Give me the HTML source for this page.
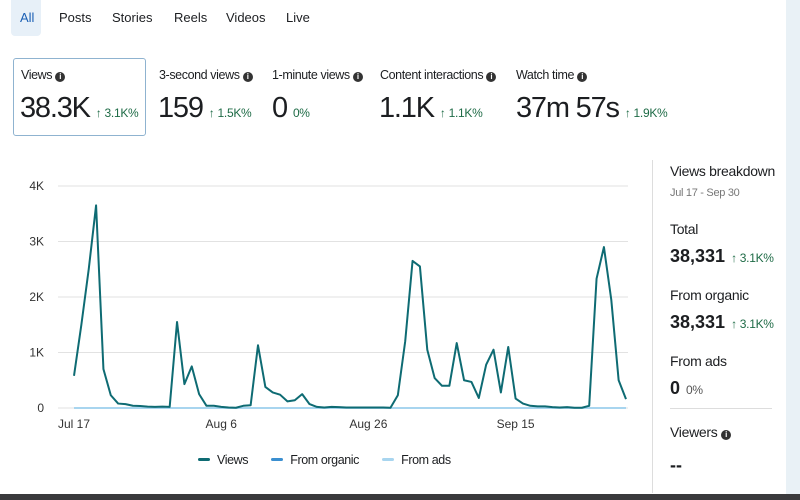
<!DOCTYPE html>
<html><head><meta charset="utf-8">
<style>
body{margin:0;width:800px;height:500px;overflow:hidden;background:#fff;font-family:"Liberation Sans",sans-serif;color:#1c1e21;position:relative}
.abs{position:absolute}
.tab{position:absolute;top:10px;font-size:13px;color:#1c1e21}
.card-l{position:absolute;top:68px;font-size:12.5px;letter-spacing:-0.4px}
.card-v{position:absolute;top:92px;font-size:29px;font-weight:300;letter-spacing:-1.2px}
.pct{font-size:12px;color:#1e6b46;letter-spacing:-0.3px;margin-left:6px;font-weight:400}
.i{display:inline-block;width:10px;height:10px;border-radius:50%;background:#333;color:#fff;font-size:8px;text-align:center;line-height:10px;font-weight:bold;vertical-align:0}
.side{position:absolute;left:670px;font-size:14px;letter-spacing:-0.3px}
.big{position:absolute;left:670px;font-size:18px;font-weight:bold}
</style></head><body>
<div class="abs" style="left:11px;top:0;width:30px;height:36px;background:#e7f0f8;border-radius:0 0 4px 4px"></div>
<div class="tab" style="left:20px;color:#1a5fb4">All</div>
<div class="tab" style="left:59px">Posts</div>
<div class="tab" style="left:112px">Stories</div>
<div class="tab" style="left:174px">Reels</div>
<div class="tab" style="left:226px">Videos</div>
<div class="tab" style="left:286px">Live</div>

<div class="abs" style="left:13px;top:58px;width:131px;height:76px;border:1px solid #8fb3d0;border-radius:3px"></div>
<div class="card-l" style="left:21px">Views <span class="i">i</span></div>
<div class="card-v" style="left:20px">38.3K<span class="pct">↑ 3.1K%</span></div>
<div class="card-l" style="left:159px">3-second views <span class="i">i</span></div>
<div class="card-v" style="left:158px">159<span class="pct">↑ 1.5K%</span></div>
<div class="card-l" style="left:272px">1-minute views <span class="i">i</span></div>
<div class="card-v" style="left:272px">0<span class="pct">0%</span></div>
<div class="card-l" style="left:380px">Content interactions <span class="i">i</span></div>
<div class="card-v" style="left:379px">1.1K<span class="pct">↑ 1.1K%</span></div>
<div class="card-l" style="left:516px">Watch time <span class="i">i</span></div>
<div class="card-v" style="left:516px">37m 57s<span class="pct">↑ 1.9K%</span></div>

<svg class="abs" style="left:0;top:0" width="650" height="480" id="chart"></svg>

<div class="abs" style="left:198px;top:453px;font-size:12.5px;letter-spacing:-0.4px">
<span><span style="display:inline-block;width:12px;height:3px;background:#0e6b73;border-radius:2px;vertical-align:3px;margin-right:7px"></span>Views</span>
<span style="margin-left:20px"><span style="display:inline-block;width:12px;height:3px;background:#3b8fd0;border-radius:2px;vertical-align:3px;margin-right:7px"></span>From organic</span>
<span style="margin-left:20px"><span style="display:inline-block;width:12px;height:3px;background:#a8d5ef;border-radius:2px;vertical-align:3px;margin-right:7px"></span>From ads</span>
</div>

<div class="abs" style="left:652px;top:160px;width:1px;height:333px;background:#ddd"></div>
<div class="side" style="top:163px;font-size:14px">Views breakdown</div>
<div class="side" style="top:187px;font-size:11px;color:#777">Jul 17 - Sep 30</div>
<div class="side" style="top:221px">Total</div>
<div class="big" style="top:246px">38,331<span class="pct">↑ 3.1K%</span></div>
<div class="side" style="top:287px">From organic</div>
<div class="big" style="top:312px">38,331<span class="pct">↑ 3.1K%</span></div>
<div class="side" style="top:353px">From ads</div>
<div class="big" style="top:378px">0<span class="pct" style="color:#555">0%</span></div>
<div class="abs" style="left:670px;top:408px;width:102px;height:1px;background:#ddd"></div>
<div class="side" style="top:424px">Viewers <span class="i">i</span></div>
<div class="big" style="top:455px">--</div>

<div class="abs" style="left:786px;top:0;width:14px;height:500px;background:#e9f1f6"></div>
<div class="abs" style="left:0;top:494px;width:800px;height:6px;background:#3a3a3c"></div>

<script>
const yTicks=[0,1000,2000,3000,4000];
const yTickLabels=["0","1K","2K","3K","4K"];
const xTickIdx=[0,20,40,60];
const xTickLabels=["Jul 17","Aug 6","Aug 26","Sep 15"];
const views=[580,1500,2500,3650,700,230,80,70,40,35,25,20,25,20,1550,430,750,250,40,40,20,10,5,40,50,1130,380,280,240,120,140,250,70,20,10,20,15,10,10,10,10,10,10,5,230,1200,2650,2550,1050,540,400,400,1170,500,470,180,780,1050,280,1100,170,80,40,30,30,15,10,15,5,5,40,2330,2900,1950,500,160];
const organic=views.map(()=>0);
const svg=document.getElementById('chart');
const NS='http://www.w3.org/2000/svg';
const x=i=>74+i*(626-74)/(views.length-1);
const y=v=>408-v*(408-186)/4000;
function mk(t,a){const e=document.createElementNS(NS,t);for(const k in a)e.setAttribute(k,a[k]);svg.appendChild(e);return e;}
yTicks.forEach((t,i)=>{
 const g=mk('line',{x1:58,x2:628,y1:y(t),y2:y(t),stroke:'#e2e2e2','stroke-width':1});
 
 
 const l=mk('text',{x:44,y:y(t)+4,'text-anchor':'end','font-size':12,fill:'#333','font-family':'Liberation Sans'});
 l.textContent=yTickLabels[i];
 
 
});
xTickIdx.forEach((d,i)=>{
 const l=mk('text',{x:x(d),y:428,'text-anchor':'middle','font-size':12,fill:'#333','font-family':'Liberation Sans'});
 l.textContent=xTickLabels[i];
 
 
});
const po=mk('polyline',{points:organic.map((v,i)=>x(i)+','+y(v)).join(' '),fill:'none',stroke:'#a8d5ef','stroke-width':2});


const pv=mk('polyline',{points:views.map((v,i)=>x(i)+','+y(v)).join(' '),fill:'none',stroke:'#0e6b73','stroke-width':2,'stroke-linejoin':'round'});


</script>
</body></html>
